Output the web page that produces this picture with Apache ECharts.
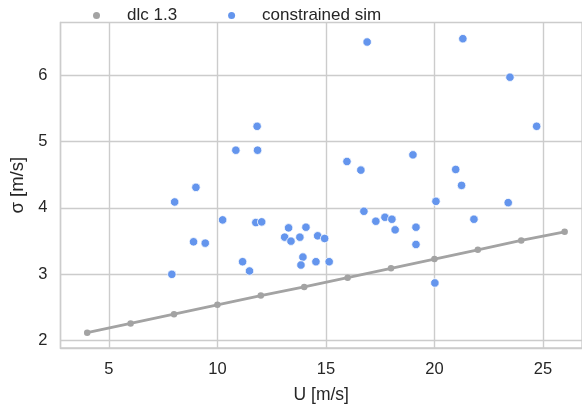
<!DOCTYPE html>
<html>
<head>
<meta charset="utf-8">
<script src="https://cdn.jsdelivr.net/npm/echarts@6/dist/echarts.min.js"></script>
<style>html,body{margin:0;padding:0;background:#fff}#c{width:582px;height:409px}</style>
</head>
<body>
<div id="c"></div>
<script>
const dlcU = [4, 6, 8, 10, 12, 14, 16, 18, 20, 22, 24, 26];
const dlcSigma = [2.12, 2.26, 2.40, 2.54, 2.68, 2.81, 2.95, 3.09, 3.23, 3.37, 3.51, 3.64];
const simU = [11.83, 10.85, 11.85, 9.01, 16.90, 21.31, 23.48, 24.71, 15.97, 16.61, 19.01, 20.98, 21.25,
  8.03, 10.24, 11.77, 12.04, 13.28, 14.08, 13.10, 13.39, 13.80, 14.62, 8.90, 9.44, 11.16, 11.48, 7.90,
  13.94, 13.85, 14.54, 14.94, 15.15, 20.07, 23.40, 16.75, 17.30, 17.72, 18.04, 18.19, 19.15, 19.15, 21.82, 20.02];
const simSigma = [5.23, 4.87, 4.87, 4.31, 6.50, 6.55, 5.97, 5.23, 4.70, 4.57, 4.80, 4.58, 4.34,
  4.09, 3.82, 3.78, 3.79, 3.70, 3.71, 3.56, 3.50, 3.56, 3.58, 3.49, 3.47, 3.19, 3.05, 3.00,
  3.26, 3.14, 3.19, 3.54, 3.19, 4.10, 4.08, 3.95, 3.80, 3.86, 3.83, 3.67, 3.71, 3.45, 3.83, 2.87];
const xTicks = [5, 10, 15, 20, 25];
const yTicks = [2, 3, 4, 5, 6];

const font = '"Liberation Sans", Arial, sans-serif';
const gridColor = '#cccccc';
const chart = echarts.init(document.getElementById('c'));
chart.setOption({
  animation: false,
  backgroundColor: '#fff',
  textStyle: {fontFamily: font},
  grid: {left: 60.5, right: 0, top: 22.5, bottom: 55.5, show: true, borderColor: gridColor, borderWidth: 1.4},
  legend: {
    top: 2, left: 88, itemGap: 51, itemWidth: 7, itemHeight: 7,
    textStyle: {fontSize: 17, color: '#262626', fontFamily: font, padding: [0, 0, 0, 22]},
    data: [
      {name: 'dlc 1.3', icon: 'circle', itemStyle: {color: '#a3a3a3', borderWidth: 0}},
      {name: 'constrained sim', icon: 'circle', itemStyle: {color: '#6495ED', borderWidth: 0, borderColor: '#6495ED'}}
    ]
  },
  xAxis: {
    type: 'value', min: 2.77, max: 26.8,
    name: 'U [m/s]', nameLocation: 'middle', nameGap: 38,
    nameTextStyle: {fontSize: 17.5, color: '#262626'},
    axisLine: {show: true, lineStyle: {color: gridColor, width: 1.4}},
    axisTick: {show: false, customValues: xTicks},
    axisLabel: {fontSize: 16.5, color: '#262626', margin: 13,
      customValues: xTicks, formatter: v => String(v)},
    splitLine: {show: true, lineStyle: {color: gridColor, width: 1.4}},
  },
  yAxis: {
    type: 'value', min: 1.89, max: 6.794,
    name: 'σ [m/s]', nameLocation: 'middle', nameGap: 31,
    nameTextStyle: {fontSize: 18.5, color: '#262626'},
    axisLine: {show: true, lineStyle: {color: gridColor, width: 1.4}},
    axisTick: {show: false, customValues: yTicks},
    axisLabel: {fontSize: 16.5, color: '#262626', margin: 13, customValues: yTicks,
      formatter: v => String(v)},
    splitLine: {show: true, lineStyle: {color: gridColor, width: 1.4}},
  },
  series: [
    {
      name: 'dlc 1.3', type: 'line',
      data: dlcU.map((u, i) => [u, dlcSigma[i]]),
      symbol: 'circle', symbolSize: 6.5, showSymbol: true,
      lineStyle: {color: '#a3a3a3', width: 2.8},
      itemStyle: {color: '#a3a3a3', borderColor: '#a3a3a3', borderWidth: 0},
      z: 3
    },
    {
      name: 'constrained sim', type: 'scatter',
      data: simU.map((u, i) => [u, simSigma[i]]),
      symbol: 'circle', symbolSize: 8.5,
      itemStyle: {color: '#6495ED', borderColor: '#ffffff', borderWidth: 0.8, opacity: 1},
      z: 4
    }
  ]
});
</script>
</body>
</html>
